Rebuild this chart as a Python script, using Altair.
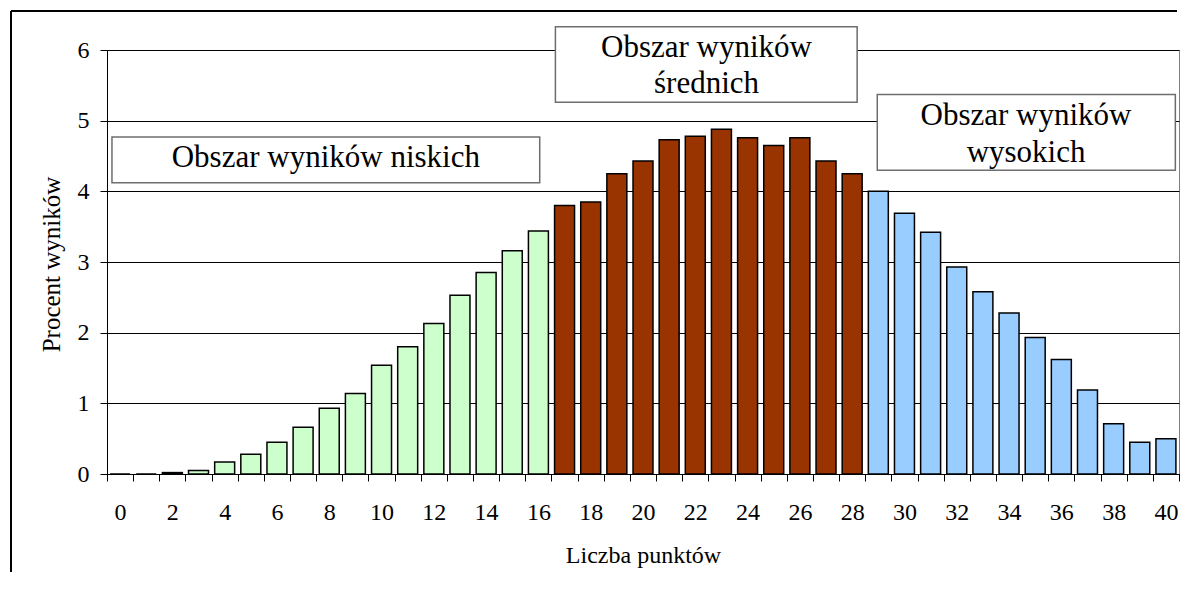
import altair as alt
import pandas as pd

# ---- data ----
punkty = list(range(0, 41))
procent = [0, 0, 0.02, 0.05, 0.17, 0.28, 0.45, 0.66, 0.93, 1.14, 1.54, 1.80,
           2.13, 2.53, 2.85, 3.16, 3.44, 3.80, 3.85, 4.25, 4.43, 4.73, 4.78,
           4.88, 4.76, 4.65, 4.76, 4.43, 4.25, 4.00, 3.69, 3.42, 2.93, 2.58,
           2.28, 1.93, 1.62, 1.19, 0.71, 0.45, 0.50]
grupy = ["niskie"] * 17 + ["średnie"] * 12 + ["wysokie"] * 12
grupy_nazwy = ["niskie", "średnie", "wysokie"]
grupy_kolory = ["#CCFFCC", "#993300", "#99CCFF"]

# tick marks sit between categories, labels on every second category
x_ticks = [i - 0.5 for i in range(0, 42)]
y_ticks = list(range(0, 7))

# annotation boxes (data units)
box_x1 = [-0.31, 16.65, 28.96]
box_x2 = [16.05, 28.19, 40.36]
box_y1 = [4.12, 5.26, 4.30]
box_y2 = [4.77, 6.33, 5.37]

# annotation text lines (data units, baseline)
txt = ["Obszar wyników niskich", "Obszar wyników", "średnich",
       "Obszar wyników", "wysokich"]
txt_x = [7.87, 22.43, 22.43, 34.65, 34.65]
txt_y = [4.34, 5.90, 5.387, 4.94, 4.42]

FONT = "Liberation Serif"
W, H = 1072, 424
STEP = W / 41.0

df = pd.DataFrame({"punkty": punkty, "procent": procent, "grupa": grupy})
boxes = pd.DataFrame({"x0": box_x1, "x1": box_x2, "y": box_y1, "y2": box_y2})
texts = pd.DataFrame({"t": txt, "x0": txt_x, "y": txt_y})

xscale = alt.Scale(domain=[-0.5, 40.5], nice=False, zero=False)
yscale = alt.Scale(domain=[0, 6], nice=False, zero=True)

x_axis = alt.Axis(
    title="Liczba punktów",
    values=x_ticks,
    labelExpr="(datum.value - 0.5) % 2 == 0 ? format(datum.value - 0.5, 'd') : ''",
    labelOffset=-STEP / 2,
    grid=False,
    tickSize=7, tickColor="black", domainColor="black",
    labelFont=FONT, labelFontSize=24, labelColor="black",
    labelBaseline="alphabetic", labelPadding=38,
    labelOverlap=False, labelFlush=False, labelBound=False,
    titleFont=FONT, titleFontSize=24, titleFontWeight="normal", titleColor="black",
    titleBaseline="alphabetic", titleY=88,
)
y_axis = alt.Axis(
    title="Procent wyników",
    values=y_ticks,
    format="d",
    grid=True, gridColor="black", gridWidth=1,
    tickSize=7, tickColor="black", domainColor="black",
    labelFont=FONT, labelFontSize=24, labelColor="black", labelPadding=11,
    labelOverlap=False, labelFlush=False, labelBound=False,
    titleFont=FONT, titleFontSize=25, titleFontWeight="normal", titleColor="black",
    titleBaseline="alphabetic", titleX=-48, titleY=214, titleAlign="center",
)

X = alt.X("x0:Q", scale=xscale, axis=x_axis)
Y = alt.Y("y:Q", scale=yscale, axis=y_axis)

bars = alt.Chart(df).transform_calculate(
    x0="datum.punkty - 0.382", x1="datum.punkty + 0.382",
    y="datum.procent", y2="0",
).mark_bar(stroke="black", strokeWidth=1.5).encode(
    x=X, x2="x1:Q", y=Y, y2="y2:Q",
    color=alt.Color("grupa:N", scale=alt.Scale(domain=grupy_nazwy, range=grupy_kolory), legend=None),
)

rects = alt.Chart(boxes).mark_rect(fill="white", stroke="#6e6e6e", strokeWidth=1.5).encode(
    x=X, x2="x1:Q", y=Y, y2="y2:Q",
)

labels = alt.Chart(texts).mark_text(
    font=FONT, fontSize=31, color="black", align="center", baseline="alphabetic"
).encode(x=X, y=Y, text="t:N")

one = pd.DataFrame({"a": [0]})
frame_top = alt.Chart(one).mark_rule(color="black", strokeWidth=2).encode(
    x=alt.value(-96), x2=alt.value(1070), y=alt.value(-39)
)
frame_left = alt.Chart(one).mark_rule(color="black", strokeWidth=2).encode(
    x=alt.value(-96), y=alt.value(-39), y2=alt.value(522)
)

chart = alt.layer(bars, rects, labels, frame_top, frame_left).properties(
    width=W, height=H,
    padding={"left": 2, "top": 2, "right": 0, "bottom": 0},
    background="white",
).configure_view(stroke="#808080", strokeWidth=1)

chart.save("out.html", embed_options={"renderer": "svg", "actions": False})
